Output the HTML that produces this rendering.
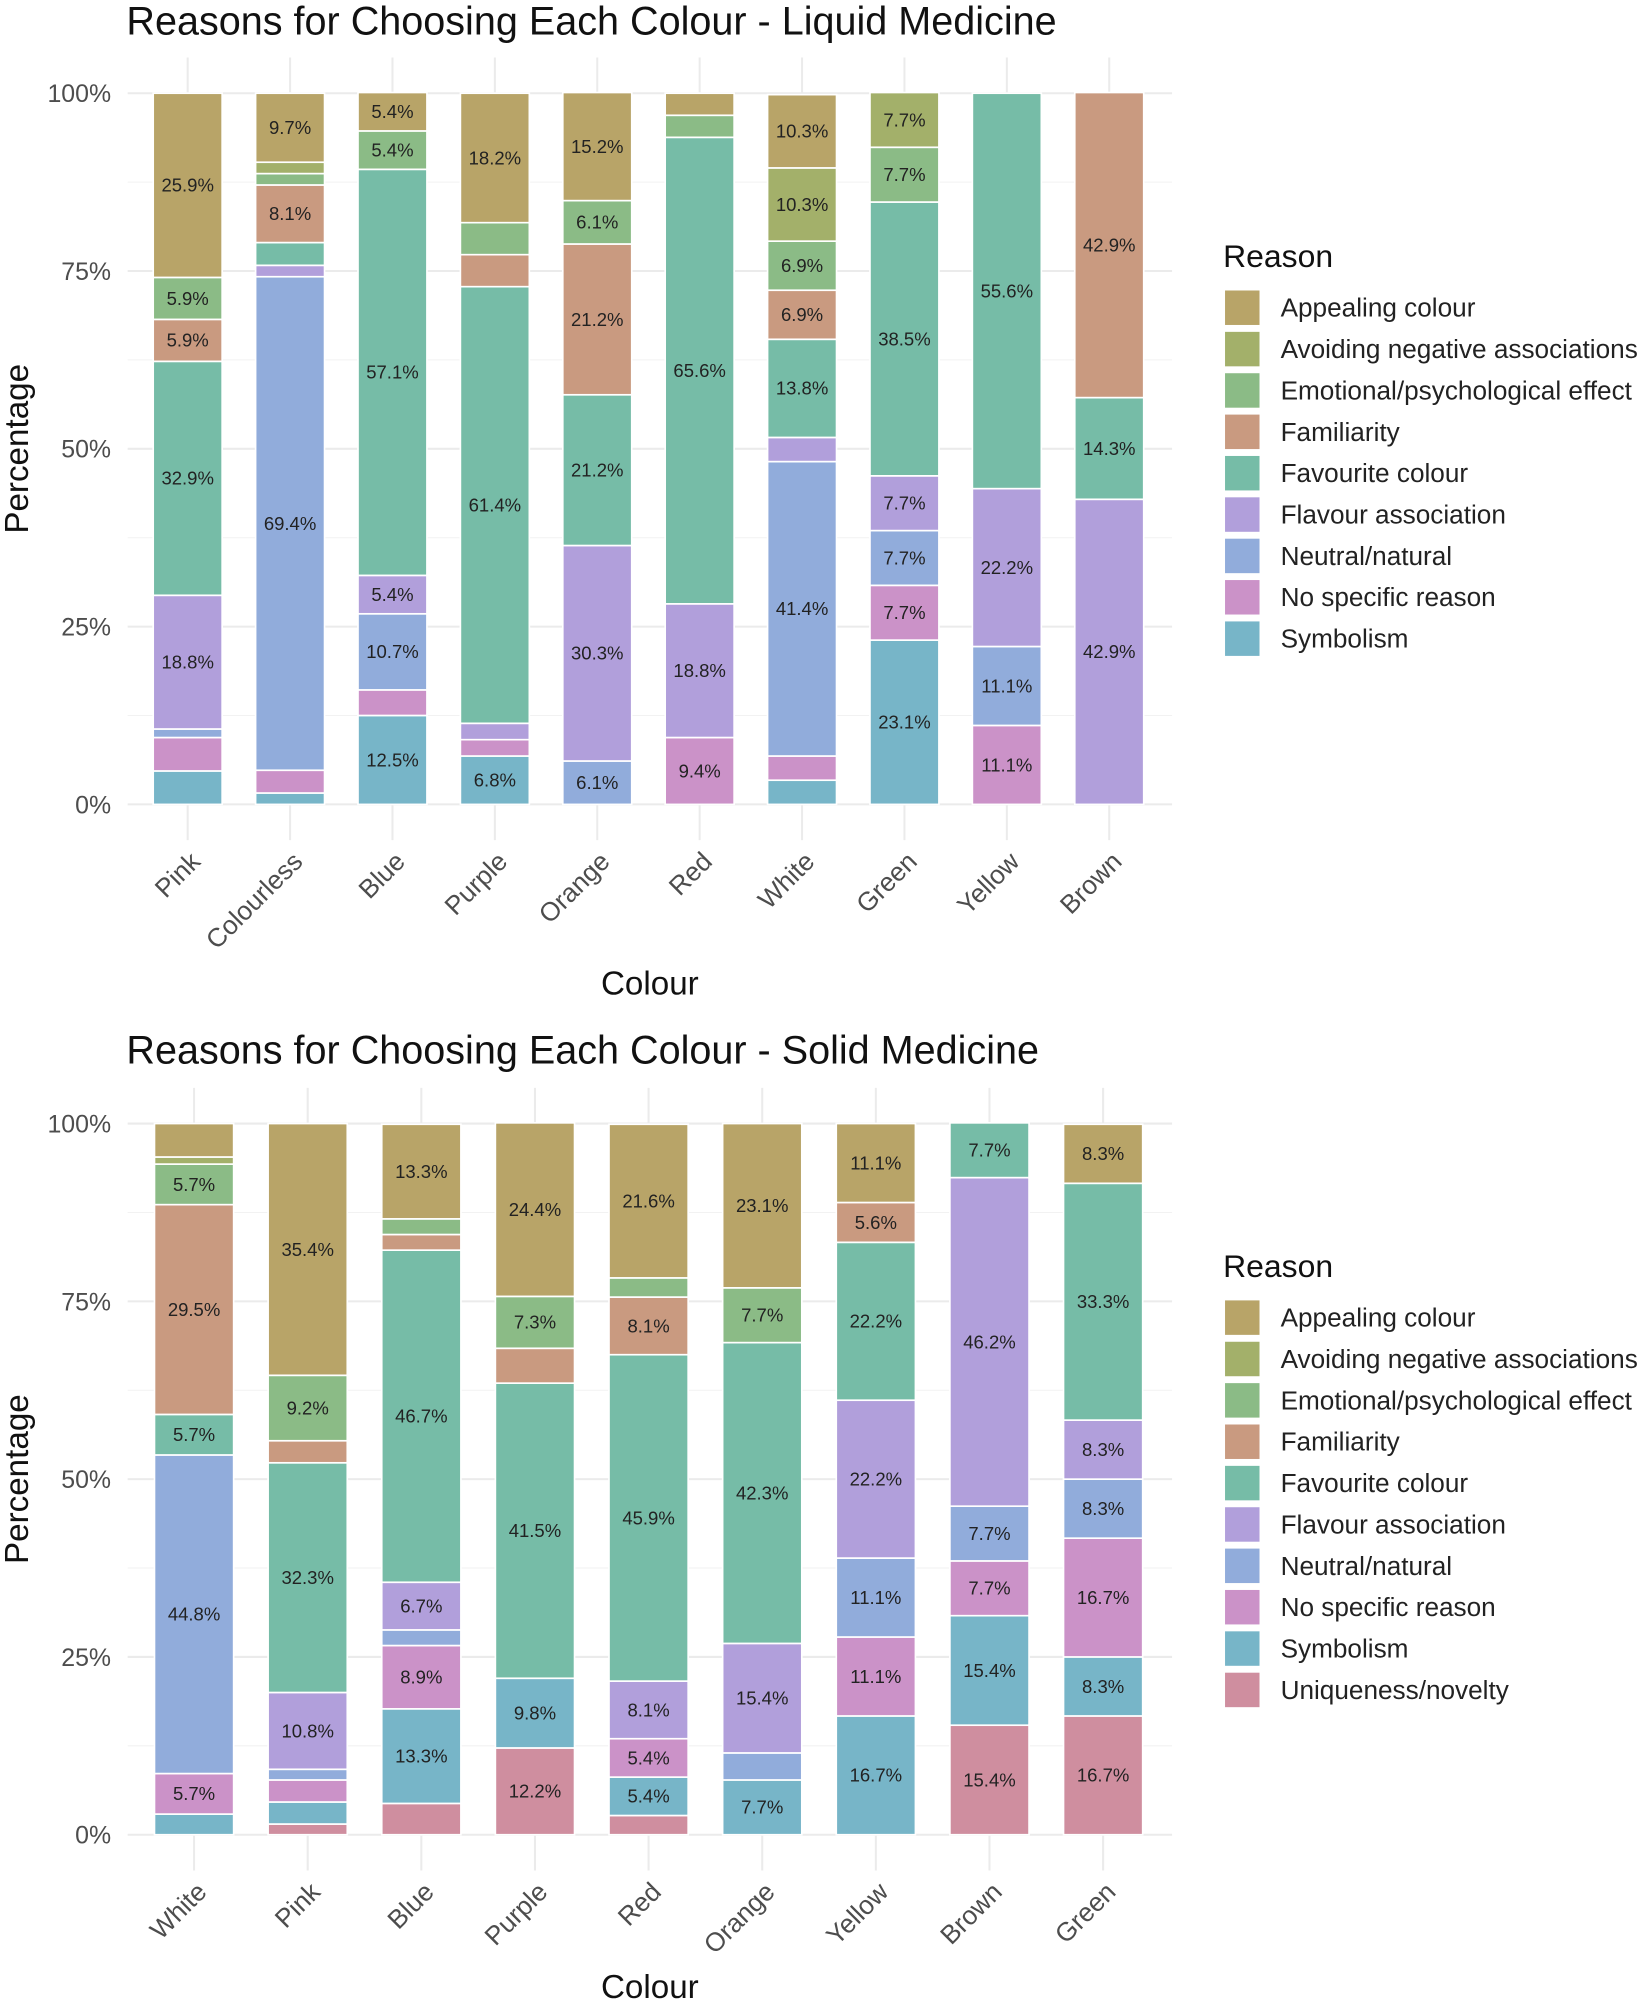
<!DOCTYPE html>
<html><head><meta charset="utf-8"><style>
html,body{margin:0;padding:0;background:#fff;}
svg{display:block;font-family:"Liberation Sans",Arial,sans-serif;}
</style></head><body>
<svg id="s" width="1647" height="2002" viewBox="0 0 1290 1568" xmlns="http://www.w3.org/2000/svg"></svg>
<script>
const reasons = ["Appealing colour","Avoiding negative associations","Emotional/psychological effect","Familiarity","Favourite colour","Flavour association","Neutral/natural","No specific reason","Symbolism","Uniqueness/novelty"];
const colors = ["#b8a468","#a3b06a","#8bbb86","#c99a80","#76bca7","#b19fdb","#91acdb","#cb92c8","#77b5c8","#cf8e9f"];
const yTicks = [0,25,50,75,100];
const yTickLabels = ["0%","25%","50%","75%","100%"];

// values per bar, in reason order (Appealing ... Uniqueness)
const liquidCats = ["Pink","Colourless","Blue","Purple","Orange","Red","White","Green","Yellow","Brown"];
const liquidVals = [
 [25.9,0,5.9,5.9,32.9,18.8,1.2,4.7,4.7,0],
 [9.7,1.6,1.6,8.1,3.2,1.6,69.4,3.2,1.6,0],
 [5.4,0,5.4,0,57.1,5.4,10.7,3.6,12.5,0],
 [18.2,0,4.5,4.5,61.4,2.3,0,2.3,6.8,0],
 [15.2,0,6.1,21.2,21.2,30.3,6.1,0,0,0],
 [3.1,0,3.1,0,65.6,18.8,0,9.4,0,0],
 [10.3,10.3,6.9,6.9,13.8,3.4,41.4,3.4,3.4,0],
 [0,7.7,7.7,0,38.5,7.7,7.7,7.7,23.1,0],
 [0,0,0,0,55.6,22.2,11.1,11.1,0,0],
 [0,0,0,42.9,14.3,42.9,0,0,0,0]
];
const solidCats = ["White","Pink","Blue","Purple","Red","Orange","Yellow","Brown","Green"];
const solidVals = [
 [4.7,1.0,5.7,29.5,5.7,0,44.8,5.7,2.9,0],
 [35.4,0,9.2,3.1,32.3,10.8,1.5,3.1,3.1,1.5],
 [13.3,0,2.2,2.2,46.7,6.7,2.2,8.9,13.3,4.4],
 [24.4,0,7.3,4.9,41.5,0,0,0,9.8,12.2],
 [21.6,0,2.7,8.1,45.9,8.1,0,5.4,5.4,2.7],
 [23.1,0,7.7,0,42.3,15.4,3.8,0,7.7,0],
 [11.1,0,0,5.6,22.2,22.2,11.1,11.1,16.7,0],
 [0,0,0,0,7.7,46.2,7.7,7.7,15.4,15.4],
 [8.3,0,0,0,33.3,8.3,8.3,16.7,8.3,16.7]
];

const svg = document.getElementById('s');
const NS = "http://www.w3.org/2000/svg";
function el(tag, attrs, parent, text){
  const e = document.createElementNS(NS, tag);
  for (const k in attrs) e.setAttribute(k, attrs[k]);
  if (text !== undefined) e.textContent = text;
  (parent||svg).appendChild(e);
  return e;
}
function slug(s){return s.toLowerCase().replace(/[^a-z0-9]+/g,'-').replace(/-$/,'');}

function drawChart(cfg){
  const {title, cats, vals, top, y0, y100, cx0, step, bw, nReasons, legendTop, prefix} = cfg;
  const g = el('g', {});
  
  
  const yS = v => y0 - (y0 - y100) * v / 100;
  const xS = i => cx0 + step * i;
  const t = el('text', {x:99, y:top+27, 'font-size':31, fill:'#111'}, g, title);
  
  
  for (let v = 12.5; v < 100; v += 25) el('line', {x1:100,x2:918,y1:yS(v),y2:yS(v),stroke:'#f2f2f2','stroke-width':0.8}, g);
  for (let i = 0; i < yTicks.length; i++){
    const gl = el('line', {x1:100,x2:918,y1:yS(yTicks[i]),y2:yS(yTicks[i]),stroke:'#ebebeb','stroke-width':1.6}, g);
    
    
    const tl = el('text', {x:87, y:yS(yTicks[i])+7, 'font-size':19.5, fill:'#4d4d4d', 'text-anchor':'end'}, g, yTickLabels[i]);
    
    
  }
  for (let i = 0; i < cats.length; i++){
    el('line', {x1:xS(i),x2:xS(i),y1:y100-28,y2:y0+28,stroke:'#ebebeb','stroke-width':1.6}, g);
  }
  for (let i = 0; i < cats.length; i++){
    let cum = 0;
    for (let r = nReasons-1; r >= 0; r--){
      const v = vals[i][r];
      if (!v) continue;
      const yb = yS(cum), yt = yS(cum + v);
      const rect = el('rect', {x:xS(i)-bw/2, y:yt, width:bw, height:yb-yt, fill:colors[r], stroke:'#fff','stroke-width':1.3}, g);
      
      
      if (v >= 5){
        const lb = el('text', {x:xS(i), y:(yb+yt)/2+5, 'font-size':14.5, fill:'#222', 'text-anchor':'middle'}, g, v.toFixed(1)+'%');
        
        
      }
      cum += v;
    }
    const xl = el('text', {transform:`translate(${xS(i)+11},${y0+46}) rotate(-45)`, 'font-size':20.5, fill:'#4d4d4d', 'text-anchor':'end'}, g, cats[i]);
    
    
  }
  const xt = el('text', {x:509, y:cfg.xTitleY, 'font-size':26, fill:'#111', 'text-anchor':'middle'}, g, 'Colour');
  
  
  const ym = (y0+y100)/2;
  const yt = el('text', {transform:`translate(22,${ym}) rotate(-90)`, 'font-size':26, fill:'#111', 'text-anchor':'middle'}, g, 'Percentage');
  
  
  const lg = el('g', {}, g);
  
  
  el('text', {x:958, y:legendTop, 'font-size':25, fill:'#111'}, lg, 'Reason');
  for (let r = 0; r < nReasons; r++){
    const ey = legendTop + 26 + r*32.4;
    const eg = el('g', {}, lg);
    
    
    el('rect', {x:959, y:ey-8, width:28, height:28, fill:colors[r], stroke:'#fff','stroke-width':1}, eg);
    el('text', {x:1003, y:ey+13, 'font-size':20.5, fill:'#222'}, eg, reasons[r]);
  }
}

drawChart({title:'Reasons for Choosing Each Colour - Liquid Medicine', cats:liquidCats, vals:liquidVals, top:0, y0:630, y100:73, cx0:147, step:80.2, bw:54, nReasons:9, legendTop:209, xTitleY:779, prefix:'liquid'});
drawChart({title:'Reasons for Choosing Each Colour - Solid Medicine', cats:solidCats, vals:solidVals, top:806, y0:1437, y100:880, cx0:152, step:89, bw:62, nReasons:10, legendTop:1000, xTitleY:1565, prefix:'solid'});
</script>
</body></html>
